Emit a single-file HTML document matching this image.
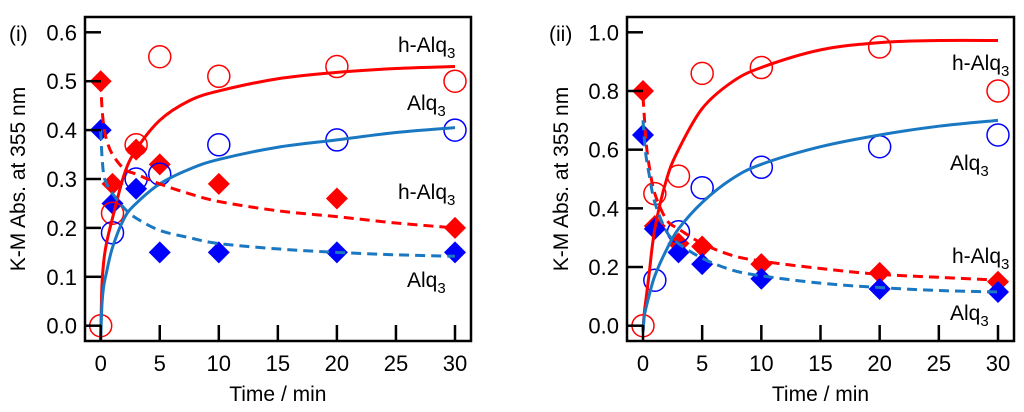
<!DOCTYPE html>
<html><head><meta charset="utf-8"><style>
body{margin:0;background:#fff}
svg{display:block}
text{font-family:"Liberation Sans",Arial,sans-serif;fill:#000}
</style></head><body>
<svg id="chart" width="1024" height="412" viewBox="0 0 1024 412" xmlns="http://www.w3.org/2000/svg"></svg>
<script>
// ---- Panel (i) data ----
const times = [0,1,3,5,10,20,30];
const p1HCirc = [0,0.23,0.37,0.55,0.51,0.53,0.50];
const p1ACirc = [null,0.19,0.30,0.31,0.37,0.38,0.40];
const p1HDiam = [0.50,0.29,0.36,0.33,0.29,0.26,0.20];
const p1ADiam = [0.40,0.25,0.28,0.15,0.15,0.15,0.15];
const fitT = [0,0.1,0.25,0.5,1,2,3,5,7.5,10,15,20,25,30];
const p1HSolid = [-0.03,0.08,0.13,0.17,0.22,0.31,0.36,0.42,0.46,0.48,0.505,0.518,0.526,0.53];
const p1ASolid = [-0.03,0.04,0.08,0.11,0.16,0.22,0.25,0.29,0.32,0.34,0.365,0.38,0.395,0.405];
const p1HDash = [0.50,0.45,0.41,0.38,0.35,0.32,0.31,0.29,0.27,0.254,0.235,0.223,0.21,0.20];
const p1ADash = [0.40,0.35,0.31,0.29,0.27,0.24,0.22,0.195,0.18,0.168,0.157,0.15,0.145,0.142];
const p1YTicks = [0.0,0.1,0.2,0.3,0.4,0.5,0.6];
const p1YLabels = ["0.0","0.1","0.2","0.3","0.4","0.5","0.6"];
// ---- Panel (ii) data ----
const p2HCirc = [0,0.45,0.51,0.86,0.88,0.95,0.80];
const p2ACirc = [null,0.155,0.32,0.47,0.54,0.61,0.65];
const p2HDiam = [0.80,0.34,0.28,0.27,0.21,0.18,0.15];
const p2ADiam = [0.65,0.33,0.25,0.21,0.16,0.125,0.115];
const p2HSolid = [-0.02,0.04,0.09,0.17,0.33,0.50,0.60,0.74,0.83,0.88,0.94,0.965,0.972,0.972];
const p2ASolid = [-0.02,0.03,0.06,0.10,0.17,0.26,0.33,0.42,0.50,0.55,0.61,0.65,0.68,0.70];
const p2HDash = [0.78,0.72,0.63,0.55,0.45,0.36,0.33,0.28,0.24,0.22,0.195,0.175,0.165,0.155];
const p2ADash = [0.70,0.64,0.58,0.52,0.42,0.32,0.28,0.23,0.19,0.17,0.145,0.13,0.12,0.115];
const p2YTicks = [0.0,0.2,0.4,0.6,0.8,1.0];
const p2YLabels = ["0.0","0.2","0.4","0.6","0.8","1.0"];
const xTicks = [0,5,10,15,20,25,30];
const xLabels = ["0","5","10","15","20","25","30"];

const NS="http://www.w3.org/2000/svg";
const svg=document.getElementById('chart');
function mk(tag,attrs,parent){const e=document.createElementNS(NS,tag);for(const k in attrs)e.setAttribute(k,attrs[k]);(parent||svg).appendChild(e);return e;}

function panel(cfg){
  const g=mk('g',{});
  
  
  const sx=t=>cfg.x0+(cfg.x30-cfg.x0)*t/30;
  const sy=v=>cfg.yZero-(cfg.yZero-cfg.yTop)*v/cfg.yMax;
  function curve(vals,color,dash,nm){
    const pts=fitT.map((t,i)=>[sx(t),sy(vals[i])]);
    let d='M'+pts[0][0]+','+pts[0][1];
    for(let i=0;i<pts.length-1;i++){
      const p0=pts[Math.max(0,i-1)],p1=pts[i],p2=pts[i+1],p3=pts[Math.min(pts.length-1,i+2)];
      const c1=[p1[0]+(p2[0]-p0[0])/6,p1[1]+(p2[1]-p0[1])/6];
      const c2=[p2[0]-(p3[0]-p1[0])/6,p2[1]-(p3[1]-p1[1])/6];
      d+=' C'+c1[0]+','+c1[1]+' '+c2[0]+','+c2[1]+' '+p2[0]+','+p2[1];
    }
    const p=mk('path',{d:d,fill:'none',stroke:color,'stroke-width':3,'stroke-dasharray':dash?'10 6':'none'},g);
    
    
  }
  function circles(vals,color,nm){
    vals.forEach((v,i)=>{if(v===null)return;
      const c=mk('circle',{cx:sx(times[i]),cy:sy(v),r:11,fill:'none',stroke:color,'stroke-width':1.5},g);
      
      
    });
  }
  function diamonds(vals,color,nm){
    vals.forEach((v,i)=>{const x=sx(times[i]),y=sy(v),s=11;
      const p=mk('polygon',{points:`${x},${y-s} ${x+s},${y} ${x},${y+s} ${x-s},${y}`,fill:color},g);
      
      
    });
  }
  diamonds(cfg.hD,'#ff0000','h-alq3-diamond');
  diamonds(cfg.aD,'#0000ff','alq3-diamond');
  circles(cfg.hC,'#ff0000','h-alq3-circle');
  circles(cfg.aC,'#0000ff','alq3-circle');
  curve(cfg.hS,'#ff0000',false,'h-alq3-fit-solid');
  curve(cfg.aS,'#1a78c2',false,'alq3-fit-solid');
  curve(cfg.hDa,'#ff0000',true,'h-alq3-fit-dashed');
  curve(cfg.aDa,'#1a78c2',true,'alq3-fit-dashed');
  const f=mk('rect',{x:cfg.fl,y:17,width:cfg.fr-cfg.fl,height:324,fill:'none',stroke:'#000','stroke-width':2.5},g);
  
  
  cfg.yT.forEach((v,i)=>{
    const y=sy(v);
    const l=mk('line',{x1:cfg.fl,x2:cfg.fl+16,y1:y,y2:y,stroke:'#000','stroke-width':2.5},g);
    
    
    const t=mk('text',{x:cfg.fl-8,y:y+8,'text-anchor':'end','font-size':22},g);
    t.textContent=cfg.yL[i];
    
    
  });
  xTicks.forEach((v,i)=>{
    const x=sx(v);
    const l=mk('line',{x1:x,x2:x,y1:341,y2:325,stroke:'#000','stroke-width':2.5},g);
    
    
    const t=mk('text',{x:x,y:371,'text-anchor':'middle','font-size':22},g);
    t.textContent=xLabels[i];
    
    
  });
  const xt=mk('text',{x:(cfg.x0+cfg.x30)/2,y:401,'text-anchor':'middle','font-size':21},g);
  xt.textContent='Time / min';
  
  
  const yt=mk('text',{x:0,y:0,'text-anchor':'middle','font-size':21,transform:`translate(${cfg.ytx},179) rotate(-90)`},g);
  yt.textContent='K-M Abs. at 355 nm';
  
  
  const pl=mk('text',{x:cfg.plx,y:41,'font-size':21},g);
  pl.textContent=cfg.label;
  
  
  cfg.sl.forEach(s=>{
    const t=mk('text',{x:s[0],y:s[1],'font-size':21},g);
    t.innerHTML=s[2]+'<tspan font-size="15" dy="6">3</tspan>';
    
    
  });
}
panel({name:'panel-i',x0:100.7,x30:455,yZero:325.7,yTop:32.3,yMax:0.6,fl:85,fr:471,ytx:25,plx:9,label:'(i)',
  hC:p1HCirc,aC:p1ACirc,hD:p1HDiam,aD:p1ADiam,hS:p1HSolid,aS:p1ASolid,hDa:p1HDash,aDa:p1ADash,yT:p1YTicks,yL:p1YLabels,
  sl:[[398,52,'h-Alq'],[407,110,'Alq'],[398,199,'h-Alq'],[407,287,'Alq']]});
panel({name:'panel-ii',x0:643,x30:998,yZero:325.7,yTop:32.3,yMax:1.0,fl:627,fr:1014,ytx:568,plx:549,label:'(ii)',
  hC:p2HCirc,aC:p2ACirc,hD:p2HDiam,aD:p2ADiam,hS:p2HSolid,aS:p2ASolid,hDa:p2HDash,aDa:p2ADash,yT:p2YTicks,yL:p2YLabels,
  sl:[[952,70,'h-Alq'],[950,170,'Alq'],[952,263,'h-Alq'],[950,320,'Alq']]});
</script>
</body></html>
